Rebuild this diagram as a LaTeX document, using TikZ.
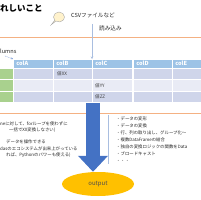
\documentclass[tikz,border=0pt]{standalone}
\usepackage{fontspec}
\setmainfont{Noto Sans CJK JP}
\usepackage{tikz}
\usetikzlibrary{arrows.meta,positioning,shapes.geometric,shapes.callouts,calc}
\definecolor{tbhead}{HTML}{9DC3E6}
\definecolor{tbdark}{HTML}{CFD5EA}
\definecolor{tblight}{HTML}{E9EBF5}
\definecolor{tbgreen}{HTML}{A9D18E}
\definecolor{pdblue}{HTML}{4472C4}
\definecolor{pdgold}{HTML}{FFC000}
\definecolor{pdline}{HTML}{F4B183}
\definecolor{pdpale}{HTML}{A9BEE0}
\definecolor{pdnote}{HTML}{FFF2CC}

\begin{document}
\begin{tikzpicture}[x=1pt,y=-1pt,
  txt/.style={inner sep=0pt,anchor=west,font=\fontsize{4.4}{6.5}\selectfont,text=black!85},
  hdr/.style={anchor=north west,fill=tbhead,draw=white,line width=0.6pt,
              text width=34pt,inner xsep=3pt,inner ysep=0pt,minimum height=9pt,
              align=left,text=white,font=\fontsize{5.6}{6}\selectfont\bfseries},
  cell/.style={anchor=north west,draw=white,line width=0.6pt,inner sep=0pt,
              minimum width=40pt,minimum height=11.5pt},
  val/.style={inner sep=0pt,anchor=west,font=\fontsize{4.6}{5}\selectfont,text=black!75},
  thinline/.style={draw=pdpale,line width=0.5pt},
  arrow/.style={-{Triangle[width=29pt,length=16pt]},draw=pdblue,line width=14pt}]
\useasboundingbox (0,0) rectangle (200,200);

% top part
\node[inner sep=0pt,anchor=west,font=\fontsize{8.5}{10}\selectfont\bfseries] (title) at (0,8) {れしいこと};
\node[ellipse callout,draw=black!35,fill=pdnote,line width=0.4pt,minimum width=11pt,
  minimum height=10pt,callout relative pointer={(-4pt,-4pt)}] (bub) at (59,17) {};
\node[txt,font=\fontsize{5.6}{6}\selectfont] (csv) at (71,15) {CSVファイルなど};
\node[txt,font=\fontsize{5.6}{6}\selectfont] (load) at (99,28) {読み込み};
\draw[pdline,line width=0.5pt] (-5,37) -- (205,37);
\node[txt,font=\fontsize{5.6}{6}\selectfont] (cols) at (0,51) {lumns};

% table
\foreach \name/\x [count=\i] in {colA/13,colB/53,colC/92,colD/133,colE/172}
  \node[hdr] (h\i) at (\x,59) {\name};
\foreach \y/\shade [count=\r] in {68/tbdark,79.5/tblight,91/tbdark} {
  \node[cell,fill=tbgreen,minimum width=33pt] (g\r) at (-20,\y) {};
  \foreach \x [count=\i] in {13,53,92,133,172}
    \node[cell,fill=\shade] (c\r\i) at (\x,\y) {};
}
\node[val] (vx) at ($(c12.west)+(4,0)$) {値XX};
\node[val] (vy) at ($(c23.west)+(3,0)$) {値YY};
\node[val] (vz) at ($(c33.west)+(3,0)$) {値ZZ};

\coordinate (rd) at (92,24);
\draw[thinline,-{Stealth[length=2.5pt,width=2.5pt]}] (rd) -- (h3.north west);
\coordinate (cl) at (5,56);
\draw[draw=pdblue!70,dashed,line width=0.4pt,dash pattern=on 1pt off 0.8pt,
  -{Stealth[length=2pt,width=2pt]}] (cl) -- (h1.north west);

% lower part
\draw[pdline,line width=0.4pt] (-5,113) -- (205,113);
\node[txt] (l1) at (0,124) {neに対して、forループを使わずに};
\node[txt] (l2) at (9,130.5) {一括でXX変換しなさい)};
\node[txt] (l3) at (6,142) {データを操作できる};
\node[txt] (l4) at (0,148.5) {dasのエコシステムが出来上がっている};
\node[txt] (l5) at (6,155) {れば、Pythonのパワーも使える)};

\coordinate (lt) at (108,115);
\coordinate (lb) at (108,164);
\draw[thinline] (lt) -- (lb);
\node[txt,anchor=north west,align=left,font=\fontsize{4.4}{7}\selectfont] (list) at (116,117)
  {・データの変形\\・データの変換\\・行、列の取り出し、グループ化～\\・複数DataFrameの結合\\%
   ・独自の変換ロジックの関数をData\\・ブロードキャスト\\・・・};

\node[ellipse,fill=pdgold,minimum width=72pt,minimum height=24pt,inner sep=0pt,
  font=\fontsize{6}{7}\selectfont,text=black!70] (out) at (98,184) {output};
\coordinate (ar) at (93,103);
\draw[arrow] (ar) -- (ar |- out.north);
\end{tikzpicture}
\end{document}
